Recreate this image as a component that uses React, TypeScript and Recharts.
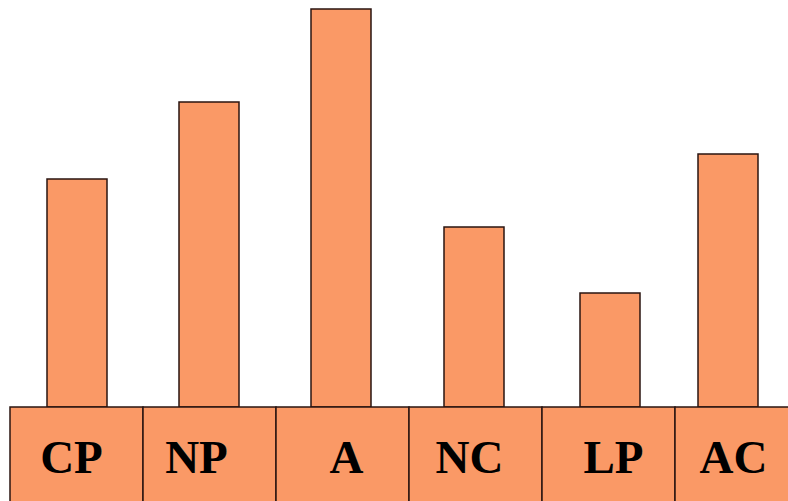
import { BarChart, Bar, XAxis, YAxis, Rectangle } from 'recharts';

const categories = ["CP", "NP", "A", "NC", "LP", "AC"];
const values = [228, 305, 398, 180, 114, 253];

const chartW = 808;
const chartH = 501;
const marginLeft = 10;
const axisH = 94;
const fill = "#FA9966";
const edge = "#2a1510";
// small nudges so labels and bars sit where they sit in the original
const labelDx = [-5, -13, 4, -6, 5, -8];
const barDx = [0, -1, -2, -2, 1, -14];

const data = categories.map((name, i) => ({ name, value: values[i] }));

function BoxTick(props: any) {
    const { x, payload, index } = props;
    const bandW = (chartW - marginLeft) / categories.length;
    const top = chartH - axisH;
    return (
        <g>
            <rect
                x={x - bandW / 2}
                y={top}
                width={bandW}
                height={axisH + 4}
                fill={fill}
                stroke={edge}
                strokeWidth={1.5}
            />
            <text
                x={x + (labelDx[index] ?? 0)}
                y={top + 66}
                textAnchor="middle"
                fontFamily="'Liberation Serif', 'Times New Roman', serif"
                fontWeight="bold"
                fontSize={47}
                fill="#000"
            >
                {payload.value}
            </text>
        </g>
    );
}

function ShiftedBar(props: any) {
    const { x, index } = props;
    return <Rectangle {...props} x={x + (barDx[index] ?? 0)} />;
}

export default function App() {
    return (
        <div style={{ position: 'absolute', left: 0, top: 0, width: 788, height: 501, overflow: 'hidden', background: '#fff' }}>
            <BarChart
                width={chartW}
                height={chartH}
                data={data}
                margin={{ top: 7, right: 0, left: marginLeft, bottom: 0 }}
            >
                <XAxis
                    dataKey="name"
                    height={axisH}
                    axisLine={false}
                    tickLine={false}
                    interval={0}
                    tick={<BoxTick />}
                />
                <YAxis hide domain={[0, 400]} />
                <Bar
                    dataKey="value"
                    fill={fill}
                    stroke={edge}
                    strokeWidth={1.5}
                    barSize={60}
                    shape={<ShiftedBar />}
                    isAnimationActive={false}
                />
            </BarChart>
        </div>
    );
}
